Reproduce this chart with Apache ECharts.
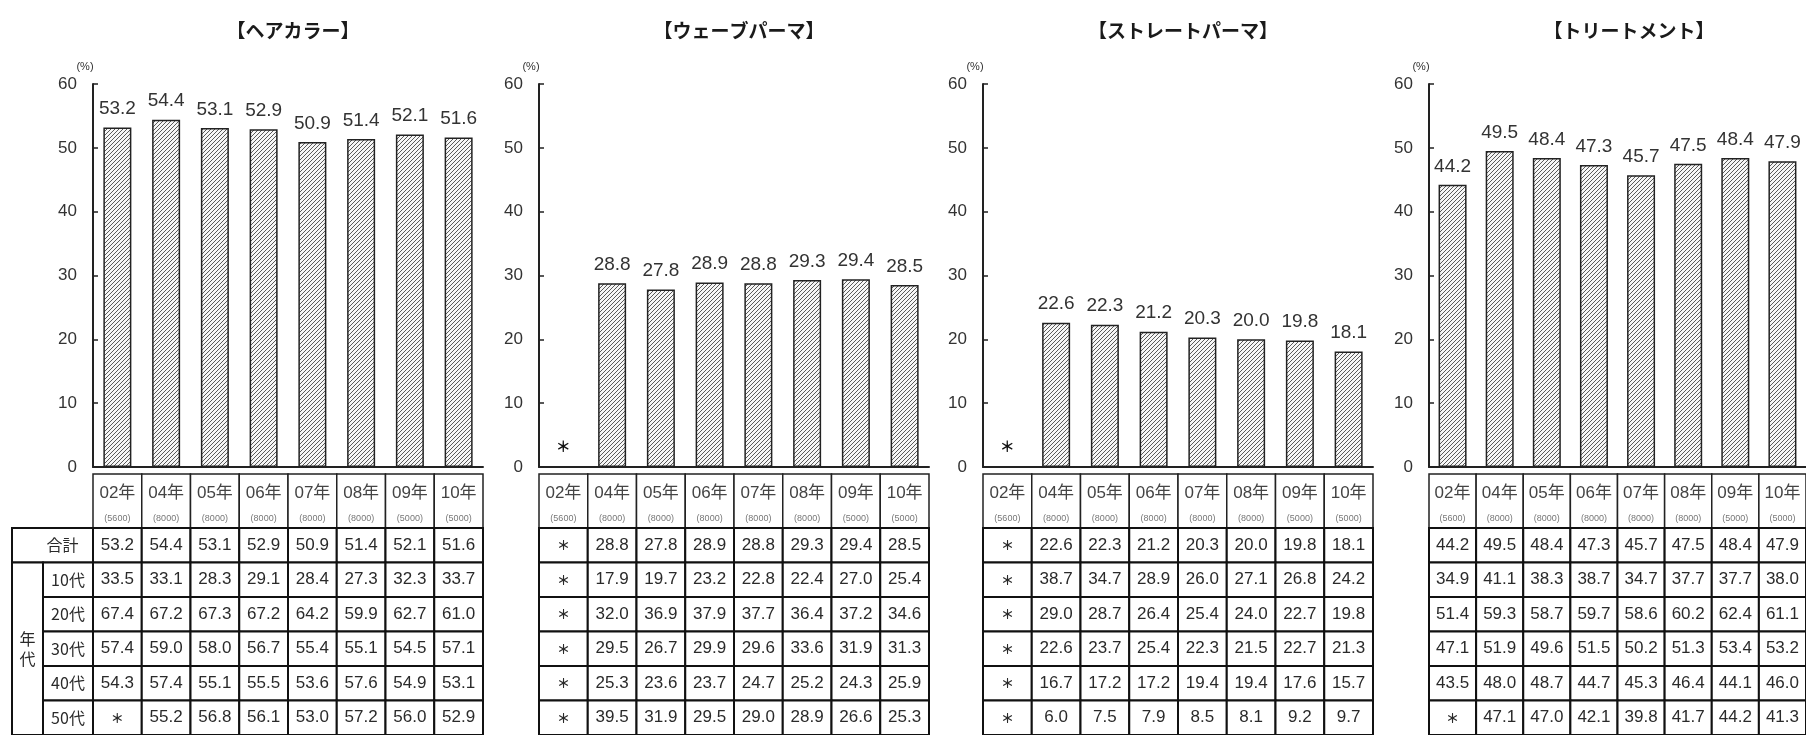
<!DOCTYPE html>
<html>
<head>
<meta charset="utf-8">
<script src="https://cdn.jsdelivr.net/npm/echarts@6/dist/echarts.min.js"></script>
<style>
html,body{margin:0;padding:0;background:#fff;}
#c{width:1806px;height:735px;}
</style>
</head>
<body>
<div id="c"></div>
<script>
// ---- data ----
const categories = ['02年','04年','05年','06年','07年','08年','09年','10年'];
const samples = ['(5600)','(8000)','(8000)','(8000)','(8000)','(8000)','(5000)','(5000)'];
const rowLabels = ['合計','10代','20代','30代','40代','50代'];
const yTicks = [0,10,20,30,40,50,60];

const hairTotal = [53.2,54.4,53.1,52.9,50.9,51.4,52.1,51.6];
const hair10 = [33.5,33.1,28.3,29.1,28.4,27.3,32.3,33.7];
const hair20 = [67.4,67.2,67.3,67.2,64.2,59.9,62.7,61.0];
const hair30 = [57.4,59.0,58.0,56.7,55.4,55.1,54.5,57.1];
const hair40 = [54.3,57.4,55.1,55.5,53.6,57.6,54.9,53.1];
const hair50 = [null,55.2,56.8,56.1,53.0,57.2,56.0,52.9];

const waveTotal = [null,28.8,27.8,28.9,28.8,29.3,29.4,28.5];
const wave10 = [null,17.9,19.7,23.2,22.8,22.4,27.0,25.4];
const wave20 = [null,32.0,36.9,37.9,37.7,36.4,37.2,34.6];
const wave30 = [null,29.5,26.7,29.9,29.6,33.6,31.9,31.3];
const wave40 = [null,25.3,23.6,23.7,24.7,25.2,24.3,25.9];
const wave50 = [null,39.5,31.9,29.5,29.0,28.9,26.6,25.3];

const straightTotal = [null,22.6,22.3,21.2,20.3,20.0,19.8,18.1];
const straight10 = [null,38.7,34.7,28.9,26.0,27.1,26.8,24.2];
const straight20 = [null,29.0,28.7,26.4,25.4,24.0,22.7,19.8];
const straight30 = [null,22.6,23.7,25.4,22.3,21.5,22.7,21.3];
const straight40 = [null,16.7,17.2,17.2,19.4,19.4,17.6,15.7];
const straight50 = [null,6.0,7.5,7.9,8.5,8.1,9.2,9.7];

const treatTotal = [44.2,49.5,48.4,47.3,45.7,47.5,48.4,47.9];
const treat10 = [34.9,41.1,38.3,38.7,34.7,37.7,37.7,38.0];
const treat20 = [51.4,59.3,58.7,59.7,58.6,60.2,62.4,61.1];
const treat30 = [47.1,51.9,49.6,51.5,50.2,51.3,53.4,53.2];
const treat40 = [43.5,48.0,48.7,44.7,45.3,46.4,44.1,46.0];
const treat50 = [null,47.1,47.0,42.1,39.8,41.7,44.2,41.3];

const titles = ['【ヘアカラー】','【ウェーブパーマ】','【ストレートパーマ】','【トリートメント】'];
const panelData = [
  [hairTotal,hair10,hair20,hair30,hair40,hair50],
  [waveTotal,wave10,wave20,wave30,wave40,wave50],
  [straightTotal,straight10,straight20,straight30,straight40,straight50],
  [treatTotal,treat10,treat20,treat30,treat40,treat50]
];

// ---- layout / style ----
const panelLeft = [93, 539, 983, 1429];
const panelWidth = 390;
const FONT = "'Liberation Sans', 'Noto Sans CJK JP', sans-serif";
const JFONT = "'Noto Sans CJK JP', sans-serif";
const MISSING = '＊';

// hatch pattern
const pat = document.createElement('canvas');
pat.width = 4; pat.height = 4;
const pc = pat.getContext('2d');
pc.fillStyle = '#f6f6f6'; pc.fillRect(0,0,4,4);
pc.strokeStyle = '#5a5a5a'; pc.lineWidth = 1;
pc.beginPath();
pc.moveTo(0,4); pc.lineTo(4,0);
pc.moveTo(-1,1); pc.lineTo(1,-1);
pc.moveTo(3,5); pc.lineTo(5,3);
pc.stroke();

const chart = echarts.init(document.getElementById('c'));
const grids = [], xAxes = [], yAxes = [], series = [], titleOpts = [];

function fmt(v){ return v == null ? MISSING : v.toFixed(1); }

panelData.forEach((rows, p) => {
  const left = panelLeft[p];
  const gBar = grids.length;
  grids.push({left: left, top: 84, width: panelWidth, height: 383});
  grids.push({left: left, top: 474, width: panelWidth, height: 54});
  grids.push({left: left, top: 528, width: panelWidth, height: 212});
  titleOpts.push({text: titles[p], left: left + panelWidth/2, top: 16, textAlign: 'center',
    textStyle: {fontSize: 19, fontWeight: 'bold', color: '#1a1a1a', fontFamily: JFONT}});

  // bar grid axes
  xAxes.push({type: 'category', gridIndex: gBar, data: categories,
    axisLine: {lineStyle: {color: '#222', width: 2}}, axisTick: {show: false}, axisLabel: {show: false}});
  yAxes.push({type: 'value', gridIndex: gBar, min: 0, max: 60, interval: 10,
    name: '(%)', nameLocation: 'end', nameGap: 12,
    nameTextStyle: {fontSize: 11, color: '#333', fontFamily: FONT, padding: [0, 16, 0, 0]},
    axisLine: {show: true, lineStyle: {color: '#222', width: 2}},
    axisTick: {show: true, inside: true, length: 5, lineStyle: {color: '#222', width: 1.5}},
    axisLabel: {fontSize: 17, color: '#333', margin: 16, fontFamily: FONT,
      customValues: yTicks},
    splitLine: {show: false}});
  // header grid axes
  xAxes.push({type: 'category', gridIndex: gBar+1, data: categories, show: false});
  yAxes.push({type: 'category', gridIndex: gBar+1, data: ['h'], show: false});
  // table grid axes
  xAxes.push({type: 'category', gridIndex: gBar+2, data: categories, show: false});
  yAxes.push({type: 'category', gridIndex: gBar+2, data: rowLabels, inverse: true, show: false});

  // bars
  series.push({
    type: 'bar', xAxisIndex: gBar, yAxisIndex: gBar, barWidth: 28,
    data: rows[0].map(v => v == null
      ? {value: 0, itemStyle: {color: 'transparent', borderWidth: 0},
         label: {formatter: MISSING, fontSize: 15, fontWeight: 'bold', distance: 13, fontFamily: JFONT, color: '#111'}}
      : v),
    itemStyle: {color: {image: pat, repeat: 'repeat'}, borderColor: '#222', borderWidth: 1.5},
    label: {show: true, position: 'top', distance: 9, fontSize: 19, color: '#333', fontFamily: FONT,
      formatter: (d) => d.value.toFixed(1)},
    silent: true, animation: false
  });

  // header cells
  series.push({
    type: 'custom', xAxisIndex: gBar+1, yAxisIndex: gBar+1, animation: false, silent: true,
    data: categories.map((c, i) => [i, 0]),
    renderItem: (params, api) => {
      const i = api.value(0);
      const c = api.coord([i, 0]);
      const s = api.size([1, 1]);
      const x = c[0] - s[0]/2, y = c[1] - s[1]/2;
      return {type: 'group', children: [
        {type: 'rect', shape: {x: x, y: y, width: s[0], height: s[1]},
          style: {fill: '#fff', stroke: '#222', lineWidth: 1.5}},
        {type: 'text', style: {text: categories[i], x: c[0], y: y + 19, align: 'center', verticalAlign: 'middle',
          font: '17px ' + FONT, fill: '#444'}},
        {type: 'text', style: {text: samples[i], x: c[0], y: y + 45, align: 'center', verticalAlign: 'middle',
          font: '9px ' + FONT, fill: '#777'}}
      ]};
    }
  });

  // table cells
  const cells = [];
  rows.forEach((arr, r) => arr.forEach((v, ci) => cells.push([ci, r, fmt(v)])));
  series.push({
    type: 'custom', xAxisIndex: gBar+2, yAxisIndex: gBar+2, animation: false, silent: true,
    data: cells.map(d => [d[0], d[1]]),
    renderItem: (params, api) => {
      const d = cells[params.dataIndex];
      const c = api.coord([d[0], d[1]]);
      const s = api.size([1, 1]);
      const isMiss = d[2] === MISSING;
      return {type: 'group', children: [
        {type: 'rect', shape: {x: c[0]-s[0]/2, y: c[1]-s[1]/2, width: s[0], height: s[1]},
          style: {fill: '#fff', stroke: '#111', lineWidth: 2}},
        {type: 'text', style: {text: d[2], x: c[0], y: c[1], align: 'center', verticalAlign: 'middle',
          font: (isMiss ? 'bold 13px ' + JFONT : '17px ' + FONT), fill: '#2a2a2a'}}
      ]};
    }
  });
});

// left label area for first panel
const gLeft = grids.length;
grids.push({left: 12, top: 528, width: 81, height: 212});
xAxes.push({type: 'value', gridIndex: gLeft, min: 0, max: 81, show: false});
yAxes.push({type: 'category', gridIndex: gLeft, data: rowLabels, inverse: true, show: false});
const leftCells = [
  [0, 81, 0, 0, rowLabels[0], 10],
  [31, 81, 1, 1, rowLabels[1], 0],
  [31, 81, 2, 2, rowLabels[2], 0],
  [31, 81, 3, 3, rowLabels[3], 0],
  [31, 81, 4, 4, rowLabels[4], 0],
  [31, 81, 5, 5, rowLabels[5], 0],
  [0, 31, 1, 5, '年\n代', 0]
];
series.push({
  type: 'custom', xAxisIndex: gLeft, yAxisIndex: gLeft, animation: false, silent: true,
  data: leftCells.map(d => [d[0], d[2]]),
  renderItem: (params, api) => {
    const d = leftCells[params.dataIndex];
    const p0 = api.coord([d[0], d[2]]);
    const p1 = api.coord([d[1], d[3]]);
    const bh = api.size([0, 1])[1];
    const x = p0[0], y = p0[1] - bh/2, w = p1[0] - p0[0], h = p1[1] - p0[1] + bh;
    return {type: 'group', children: [
      {type: 'rect', shape: {x: x, y: y, width: w, height: h},
        style: {fill: '#fff', stroke: '#111', lineWidth: 2}},
      {type: 'text', style: {text: d[4], x: x + w/2 + d[5], y: y + h/2, align: 'center', verticalAlign: 'middle',
        font: '16px ' + JFONT, fill: '#2a2a2a', lineHeight: 20}}
    ]};
  }
});

chart.setOption({
  backgroundColor: '#fff',
  animation: false,
  title: titleOpts,
  grid: grids,
  xAxis: xAxes,
  yAxis: yAxes,
  series: series
});
</script>
</body>
</html>
